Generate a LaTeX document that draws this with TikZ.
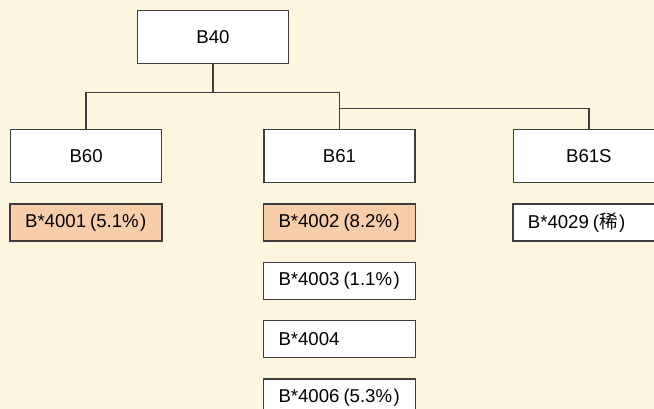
\documentclass[tikz,border=0pt]{standalone}
\usepackage{fontspec}
\setmainfont{Liberation Sans}
\newfontfamily\cjk{Noto Sans CJK JP}
\usetikzlibrary{positioning, calc}
\definecolor{bgcream}{RGB}{253,246,222}
\definecolor{boxline}{RGB}{62,62,62}
\definecolor{hitfill}{RGB}{248,205,170}
% percentage in loose parentheses
\newcommand{\freq}[1]{\hspace{4pt}(#1\hspace{1.5pt})}

\begin{document}
\begin{tikzpicture}[
  x=1pt, y=1pt,
  node distance=20pt and 100pt,
  font=\fontsize{18.6}{21}\selectfont,
  antigen/.style={rectangle, draw=boxline, line width=1.4pt, fill=white, minimum width=151pt, minimum height=53pt, inner sep=0pt},
  allele/.style={rectangle, draw=boxline, line width=1.4pt, fill=white, text width=122pt, inner xsep=15pt, inner ysep=0pt, minimum height=37pt, align=left},
  hit/.style={allele, fill=hitfill},
  link/.style={draw=boxline, line width=1.3pt}
]
% background and page frame
\fill[bgcream] (0,0) rectangle (654,-409);
\useasboundingbox (0,0) rectangle (654,-409);

% -------------------------------------------------------------------------
% SEROLOGICAL ANTIGENS
% -------------------------------------------------------------------------
\node[antigen] (b40) at (213,-37) {B40};
\node[antigen] (b61) at (339.5,-156) {B61};
\node[antigen, left=101pt of b61] (b60) {B60};
\node[antigen, right=97pt of b61] (b61s) {B61S};

% -------------------------------------------------------------------------
% ALLELES
% -------------------------------------------------------------------------
\node[hit, below=of b60] (a4001) {B*4001\freq{5.1\%}};
\node[hit, below=of b61] (a4002) {B*4002\freq{8.2\%}};
\node[allele, below=of a4002] (a4003) {B*4003\freq{1.1\%}};
\node[allele, below=of a4003] (a4004) {B*4004};
\node[allele, below=of a4004] (a4006) {B*4006\freq{5.3\%}};
\node[allele, below=of b61s] (a4029) {B*4029\freq{{\cjk 稀}}};

% connectors
\coordinate (j1) at ($(b40.south)+(0,-28)$);
\coordinate (j2) at ($(b61.north)+(0,20)$);
\draw[link] (b40.south) -- (j1);
\draw[link] (b60.north) |- (j1) -| (b61.north);
\draw[link] (j2) -| (b61s.north);
\end{tikzpicture}
\end{document}
